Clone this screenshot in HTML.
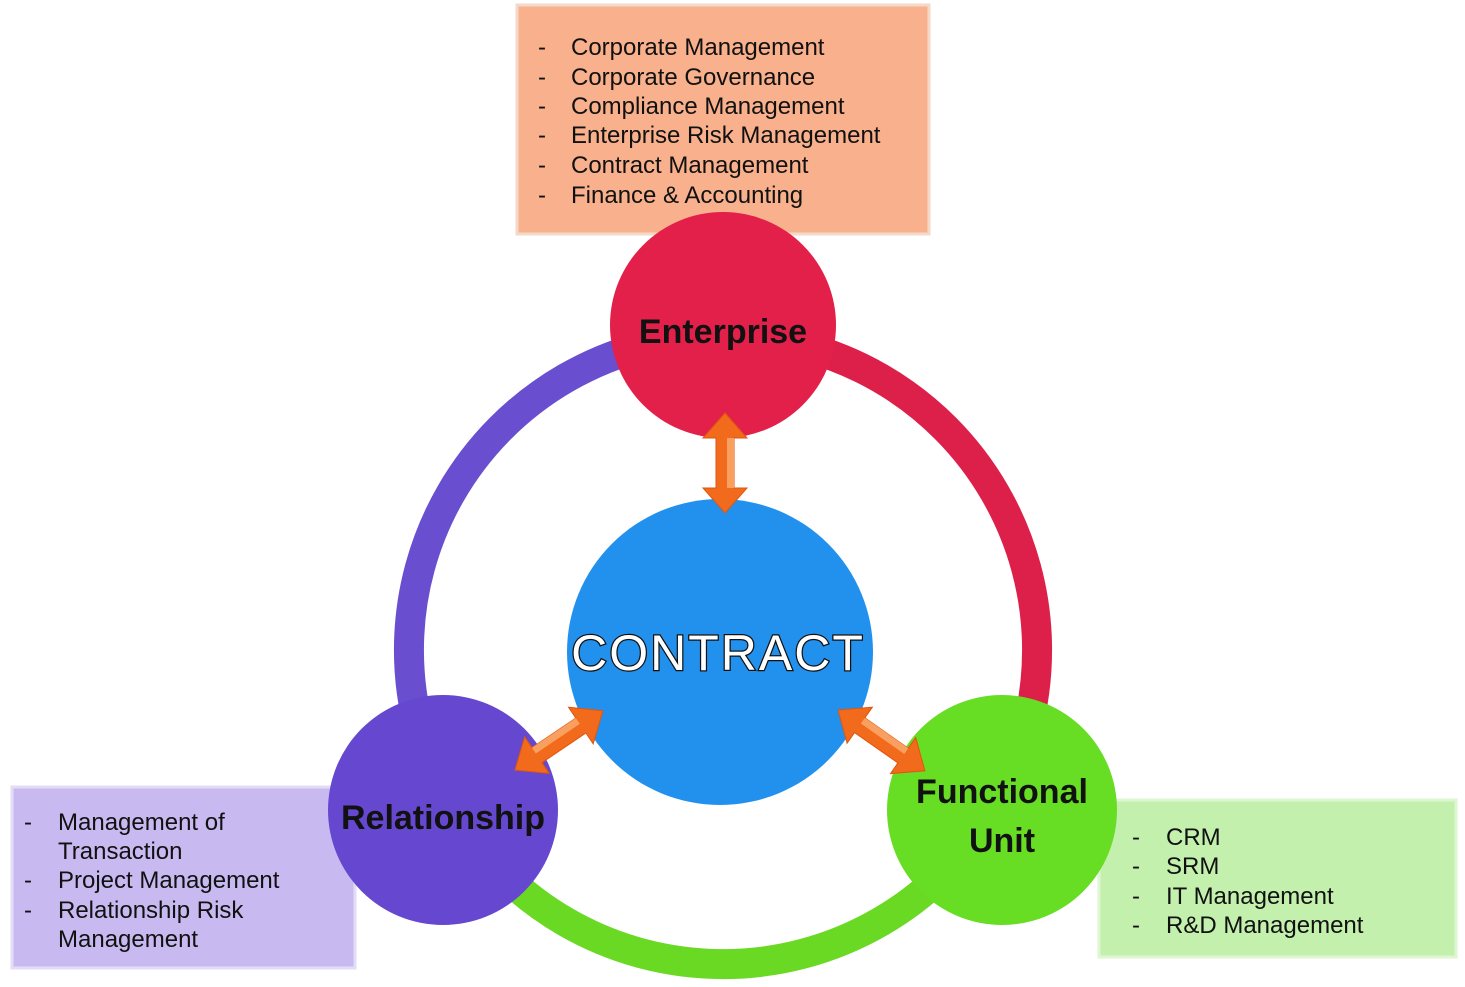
<!DOCTYPE html>
<html><head><meta charset="utf-8"><style>
html,body{margin:0;padding:0;background:#fff;}
svg{display:block;}
text{font-family:"Liberation Sans",Arial,sans-serif;}
</style></head><body>
<svg width="1465" height="987" viewBox="0 0 1465 987" xmlns="http://www.w3.org/2000/svg">
<defs>
<g id="arr">
<polygon points="0,0 25,-22 25,-9 75,-9 75,-22 100,0 75,22 75,9 25,9 25,22" fill="#f26a1b" stroke="#e0560e" stroke-width="1"/>
<polygon points="25,-9 75,-9 75,-2 25,-2" fill="#f9a060"/>
</g>
</defs>
<!-- top box -->
<rect x="517" y="5" width="412" height="229" fill="#f8b18c" stroke="#f3d9c8" stroke-width="3"/>
<g font-size="24" fill="#111">
<text x="538" y="55">-</text><text x="571" y="55">Corporate Management</text>
<text x="538" y="85">-</text><text x="571" y="85">Corporate Governance</text>
<text x="538" y="114">-</text><text x="571" y="114">Compliance Management</text>
<text x="538" y="143">-</text><text x="571" y="143">Enterprise Risk Management</text>
<text x="538" y="173">-</text><text x="571" y="173">Contract Management</text>
<text x="538" y="203">-</text><text x="571" y="203">Finance &amp; Accounting</text>
</g>
<!-- left box -->
<rect x="12" y="787" width="343" height="181" fill="#c8baf0" stroke="#e2dcf6" stroke-width="3"/>
<g font-size="24" fill="#111">
<text x="24" y="830">-</text><text x="58" y="830">Management of</text>
<text x="58" y="859">Transaction</text>
<text x="24" y="888">-</text><text x="58" y="888">Project Management</text>
<text x="24" y="918">-</text><text x="58" y="918">Relationship Risk</text>
<text x="58" y="947">Management</text>
</g>
<!-- right box -->
<rect x="1099" y="800" width="357" height="157" fill="#c3f0ad" stroke="#def6d2" stroke-width="3"/>
<g font-size="24" fill="#111">
<text x="1132" y="845">-</text><text x="1166" y="845">CRM</text>
<text x="1132" y="874">-</text><text x="1166" y="874">SRM</text>
<text x="1132" y="904">-</text><text x="1166" y="904">IT Management</text>
<text x="1132" y="933">-</text><text x="1166" y="933">R&amp;D Management</text>
</g>
<!-- ring -->
<g fill="none" stroke-width="30">
<path d="M723,336 A314,314 0 0 1 995,807" stroke="#dd2049"/>
<path d="M995,807 A314,314 0 0 1 451,807" stroke="#6ad924"/>
<path d="M451,807 A314,314 0 0 1 723,336" stroke="#6a4ed0"/>
</g>
<!-- circles -->
<circle cx="723" cy="325" r="113" fill="#e2204a"/>
<circle cx="720" cy="652" r="153" fill="#2291ee"/>
<circle cx="443" cy="810" r="115" fill="#6548cf"/>
<circle cx="1002" cy="810" r="115" fill="#67dd24"/>
<!-- arrows -->
<use href="#arr" transform="translate(725,413) rotate(90)"/>
<use href="#arr" transform="translate(515,770) rotate(-34) scale(1.06,1)"/>
<use href="#arr" transform="translate(838,710) rotate(35) scale(1.06,1)"/>
<!-- labels -->
<text x="723" y="343" font-size="34" font-weight="bold" text-anchor="middle" fill="#111">Enterprise</text>
<text x="443" y="829" font-size="34" font-weight="bold" text-anchor="middle" fill="#111">Relationship</text>
<text x="1002" y="803" font-size="34" font-weight="bold" text-anchor="middle" fill="#111">Functional</text>
<text x="1002" y="852" font-size="34" font-weight="bold" text-anchor="middle" fill="#111">Unit</text>
<text x="718" y="670" font-size="50" text-anchor="middle" fill="#fff" stroke="#111" stroke-width="2.5" paint-order="stroke" letter-spacing="2">CONTRACT</text>
</svg>
</body></html>
